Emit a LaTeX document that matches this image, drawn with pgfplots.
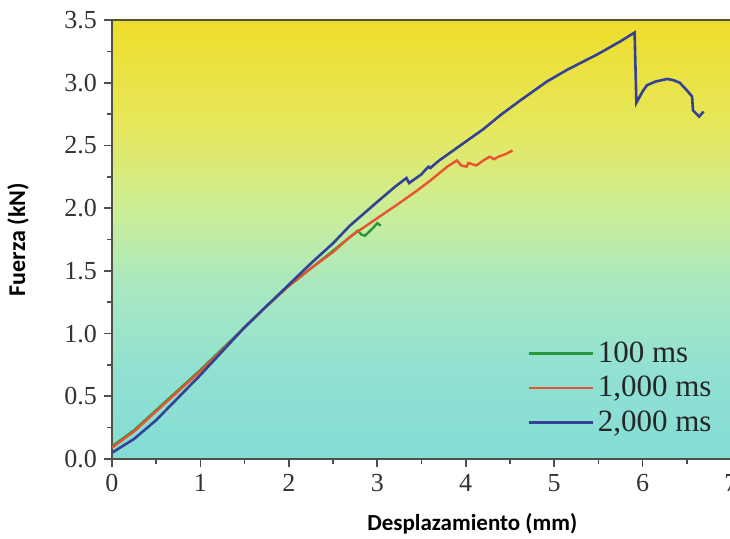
\documentclass[border=0pt]{standalone}
\usepackage{pgfplots}
\pgfplotsset{compat=1.18}
\usepackage{fontspec}
\setmainfont{Liberation Serif}
\newfontfamily\calibri{Carlito}
\definecolor{bg0}{RGB}{132,220,214}
\definecolor{bg1}{RGB}{145,225,210}
\definecolor{bg2}{RGB}{170,232,192}
\definecolor{bg3}{RGB}{200,238,155}
\definecolor{bg4}{RGB}{230,232,95}
\definecolor{bg5}{RGB}{238,221,42}
\definecolor{cblue}{RGB}{52,66,150}
\definecolor{cred}{RGB}{232,84,48}
\definecolor{cgreen}{RGB}{40,150,60}
\definecolor{axcol}{RGB}{80,80,70}
\pgfdeclareverticalshading{bgshade}{100bp}{color(0bp)=(bg0); color(25bp)=(bg0); color(35bp)=(bg1); color(45bp)=(bg2); color(52.5bp)=(bg3); color(62.5bp)=(bg4); color(75bp)=(bg5); color(100bp)=(bg5)}
\begin{document}
\begin{tikzpicture}
\begin{axis}[
  scale only axis, width=309.5pt, height=219.5pt,
  at={(0,0)}, anchor=south west,
  xmin=0, xmax=7, ymin=0, ymax=3.5,
  xtick={0,1,2,3,4,5,6,7}, ytick={0,0.5,1,1.5,2,2.5,3,3.5},
  minor x tick num=1, minor y tick num=1,
  xtick pos=bottom, ytick pos=left,
  tick align=outside,
  major tick length=4pt, minor tick length=2.5pt,
  axis line style={axcol, line width=0.9pt},
  tick style={axcol, line width=0.8pt},
  /pgf/number format/assume math mode=true,
  yticklabel style={/pgf/number format/.cd, fixed, fixed zerofill, precision=1},
  ticklabel style={font=\fontsize{13}{15}\selectfont, text=black!80},
  axis background/.style={shade, shading=bgshade},
  xlabel={Desplazamiento (mm)},
  ylabel={Fuerza (kN)},
  xlabel style={font=\calibri\bfseries\fontsize{11.5}{13}\selectfont, at={(axis description cs:0.582,0)}, anchor=center, yshift=-32.5pt},
  ylabel style={font=\calibri\bfseries\fontsize{12}{14}\selectfont, at={(axis description cs:-0.152,0.5)}, anchor=center},
  legend cell align=left,
  legend image code/.code={\draw[#1, line width=1.3pt] (0pt,0pt) -- (32pt,0pt);},
  legend style={draw=none, fill=none, at={(axis description cs:0.667,0.282)}, anchor=north west,
    font=\fontsize{15.5}{17}\selectfont, text=black!85, row sep=1.5pt, inner sep=1pt},
]
\addplot[cgreen, line width=1.2pt] coordinates {
(0,0.10) (0.25,0.23) (0.5,0.39) (0.75,0.55) (1.0,0.71) (1.25,0.88) (1.5,1.05) (1.75,1.22) (2.0,1.38) (2.25,1.52) (2.5,1.66) (2.78,1.82) (2.82,1.79) (2.86,1.78) (2.95,1.84) (3.0,1.88) (3.04,1.86)
};
\addlegendentry{100 ms}
\addplot[cred, line width=1.2pt] coordinates {
(0,0.09) (0.25,0.22) (0.5,0.38) (0.75,0.54) (1.0,0.70) (1.25,0.87) (1.5,1.05) (1.75,1.22) (2.0,1.38) (2.25,1.52) (2.5,1.65) (2.69,1.77) (3.0,1.92) (3.25,2.04) (3.45,2.14) (3.6,2.22) (3.79,2.33) (3.9,2.38) (3.95,2.34) (4.01,2.33) (4.03,2.36) (4.12,2.34) (4.2,2.38) (4.27,2.41) (4.32,2.39) (4.37,2.41) (4.45,2.43) (4.53,2.46)
};
\addlegendentry{1,000 ms}
\addplot[cblue, line width=1.3pt] coordinates {
(0,0.05) (0.25,0.16) (0.5,0.31) (0.75,0.49) (1.0,0.67) (1.25,0.86) (1.5,1.05) (1.75,1.22) (2.0,1.39) (2.25,1.56) (2.5,1.72) (2.69,1.86) (3.0,2.05) (3.2,2.17) (3.33,2.24) (3.36,2.20) (3.4,2.22) (3.5,2.27) (3.55,2.31) (3.58,2.33) (3.6,2.32) (3.7,2.38) (4.0,2.53) (4.2,2.63) (4.39,2.74) (4.6,2.85) (4.8,2.95) (4.92,3.01) (5.14,3.10) (5.5,3.23) (5.75,3.33) (5.91,3.40) (5.93,2.84) (6.0,2.93) (6.05,2.98) (6.15,3.01) (6.28,3.03) (6.35,3.02) (6.42,3.0) (6.5,2.94) (6.56,2.89) (6.57,2.78) (6.64,2.73) (6.69,2.77)
};
\addlegendentry{2,000 ms}
\end{axis}
\pgfresetboundingbox
\useasboundingbox (-56pt,-40pt) rectangle (309pt,229.5pt);
\end{tikzpicture}
\end{document}
